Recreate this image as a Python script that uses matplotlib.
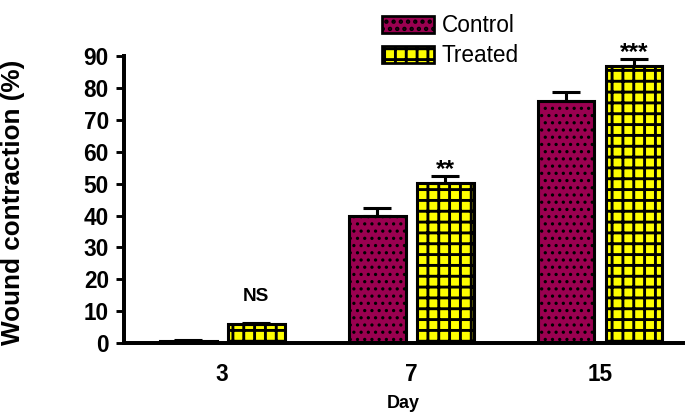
import matplotlib
matplotlib.use('Agg')
import matplotlib.pyplot as plt
import numpy as np
from matplotlib.patches import Patch

plt.rcParams['font.family'] = ['Liberation Sans', 'DejaVu Sans']

# Data
days = ['3', '7', '15']
control = [0.8, 40.0, 75.8]
control_err = [0.3, 2.3, 3.0]
treated = [6.0, 50.3, 87.0]
treated_err = [0.4, 2.2, 2.0]
signif = ['NS', '**', '***']

ctrl_color = '#9a0050'
trt_color = '#ffff00'

fig = plt.figure(figsize=(686/130, 415/130), dpi=130)
ax = fig.add_axes([0.181, 0.173, 0.815, 0.692])

x = np.arange(len(days))
w = 0.30
off = 0.18

plt.rcParams['hatch.linewidth'] = 1.0
b1 = ax.bar(x - off, control, w, color=ctrl_color, edgecolor='black',
            linewidth=1.7, hatch='...', zorder=2)
plt.rcParams['hatch.linewidth'] = 1.6
b2 = ax.bar(x + off, treated, w, color=trt_color, edgecolor='black',
            linewidth=1.7, hatch='++', zorder=2)

ax.errorbar(x - off, control, yerr=[np.zeros(3), control_err], fmt='none',
            ecolor='black', elinewidth=1.7, capsize=8, capthick=1.7, zorder=3)
ax.errorbar(x + off, treated, yerr=[np.zeros(3), treated_err], fmt='none',
            ecolor='black', elinewidth=1.7, capsize=8, capthick=1.7, zorder=3)

# significance marks
for i in range(len(days)):
    ytxt = treated[i] + treated_err[i] + 2.0
    if signif[i] == 'NS':
        ytxt = treated[i] + 8.5
    ax.text(x[i] + off, ytxt, signif[i], ha='center', va='center',
            fontsize=10.5 if signif[i] == 'NS' else 13.5, fontweight='bold', clip_on=False)

ax.set_xlim(-0.519, 2.44)
ax.set_ylim(0, 90)
ax.set_yticks(np.arange(0, 91, 10))
ax.set_xticks(x)
ax.set_xticklabels(days)
for lab in ax.get_yticklabels() + ax.get_xticklabels():
    lab.set_fontweight('bold')
    lab.set_fontsize(12.5)
ax.tick_params(axis='y', length=4.5, width=1.6, pad=4)
ax.tick_params(axis='x', length=0, pad=11)

for s in ['top', 'right']:
    ax.spines[s].set_visible(False)
for s in ['left', 'bottom']:
    ax.spines[s].set_linewidth(2.2)

ax.set_ylabel('Wound contraction (%)', fontsize=14.5, fontweight='bold')
ax.yaxis.set_label_coords(-0.177, 0.49)
ax.set_xlabel('Day', fontsize=10, fontweight='bold', labelpad=5)

plt.rcParams['hatch.linewidth'] = 1.0
h1 = Patch(facecolor=ctrl_color, edgecolor='black', hatch='...', linewidth=1.5)
plt.rcParams['hatch.linewidth'] = 1.6
h2 = Patch(facecolor=trt_color, edgecolor='black', hatch='++', linewidth=1.5)
fig.legend([h1, h2], ['Control', 'Treated'], loc='upper left',
           bbox_to_anchor=(0.537, 0.998), frameon=False, fontsize=12.5,
           handlelength=2.3, handleheight=0.8, labelspacing=0.3,
           handletextpad=0.35, borderaxespad=0.2)

fig.savefig('out.png', dpi=130)
